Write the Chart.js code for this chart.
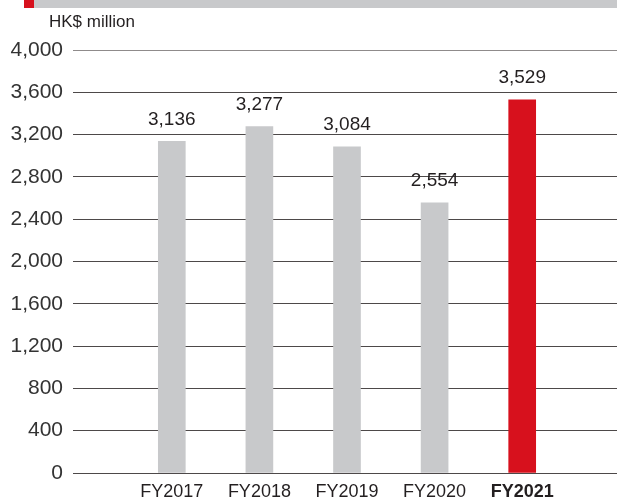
<!DOCTYPE html>
<html>
<head>
<meta charset="utf-8">
<script src="https://cdn.jsdelivr.net/npm/chart.js@4.4.0/dist/chart.umd.min.js"></script>
<style>
  html, body { margin: 0; padding: 0; background: #fff; }
  #wrap { position: relative; width: 617px; height: 499px; }
  #band { position: absolute; left: 34px; top: 0; width: 583px; height: 8px; background: #c8c9cb; }
  #mark { position: absolute; left: 24px; top: 0; width: 10px; height: 8px; background: #d7111d; }
  #unit { position: absolute; left: 49px; top: 12px; font: 17px "Liberation Sans", Arial, sans-serif; color: #231f20; }
  canvas { position: absolute; left: 0; top: 0; }
</style>
</head>
<body>
<div id="wrap">
  <canvas id="profitChart" width="617" height="499"></canvas>
  <div id="band"></div>
  <div id="mark"></div>
  <div id="unit">HK$ million</div>
</div>
<script>
// data
const years = ['FY2017', 'FY2018', 'FY2019', 'FY2020', 'FY2021'];
const profit = [3136, 3277, 3084, 2554, 3529];
const barColors = ['#c8c9cb', '#c8c9cb', '#c8c9cb', '#c8c9cb', '#d7111d'];
const yTicks = { min: 0, max: 4000, step: 400 };

const fontFamily = '"Liberation Sans", Arial, sans-serif';
const lineColor = ctx => (ctx.tick && ctx.tick.value === yTicks.max) ? '#8f8b8b' : '#4d4949';

// value labels above the bars
const valueLabels = {
  id: 'valueLabels',
  afterDatasetsDraw(chart) {
    const c = chart.ctx;
    const meta = chart.getDatasetMeta(0);
    c.save();
    c.font = '19px ' + fontFamily;
    c.fillStyle = '#231f20';
    c.textAlign = 'center';
    c.textBaseline = 'middle';
    meta.data.forEach((bar, i) => {
      c.fillText(profit[i].toLocaleString('en-US'), bar.x, bar.y - 22);
    });
    c.restore();
  }
};

const ctx = document.getElementById('profitChart').getContext('2d');
const chart = new Chart(ctx, {
  type: 'bar',
  data: {
    labels: years,
    datasets: [{
      data: profit,
      backgroundColor: barColors,
      barThickness: 27
    }]
  },
  options: {
    responsive: false,
    animation: false,
    devicePixelRatio: 1,
    layout: { padding: { top: 50, left: 0, right: 0, bottom: 0 } },
    plugins: {
      legend: { display: false },
      tooltip: { enabled: false }
    },
    scales: {
      x: {
        grid: { display: false, drawTicks: false },
        border: { display: false },
        ticks: {
          padding: 8,
          color: '#231f20',
          font: c => ({ family: fontFamily, size: 18, weight: c.index === 4 ? 'bold' : 'normal' })
        },
        afterFit: s => { s.height = 26; }
      },
      y: {
        min: yTicks.min,
        max: yTicks.max,
        border: { display: false },
        grid: { color: lineColor, lineWidth: 1, tickLength: 55 },
        ticks: {
          stepSize: yTicks.step,
          padding: 10,
          color: '#333',
          font: { family: fontFamily, size: 21 },
          callback: v => v.toLocaleString('en-US')
        },
        afterFit: s => { s.width = 128; }
      },
      y2: {
        position: 'right',
        min: yTicks.min,
        max: yTicks.max,
        border: { display: false },
        grid: { color: lineColor, lineWidth: 1, tickLength: 51, drawOnChartArea: false },
        ticks: { stepSize: yTicks.step, display: false },
        afterFit: s => { s.width = 51; }
      }
    }
  },
  plugins: [valueLabels]
});
</script>
</body>
</html>
